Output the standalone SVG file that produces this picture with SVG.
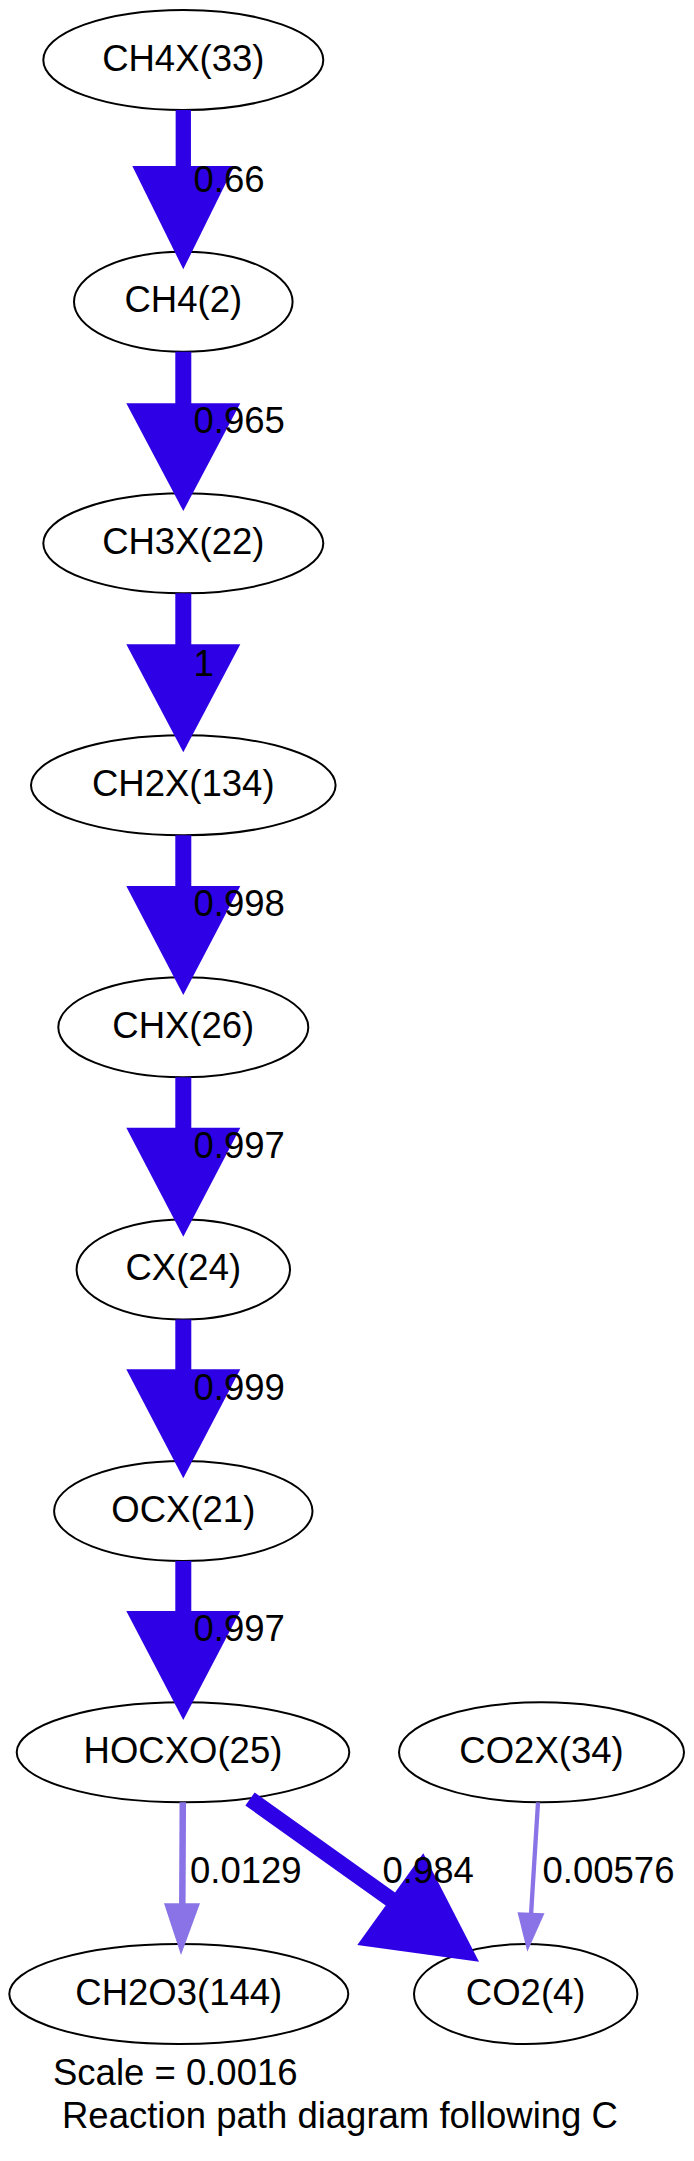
<svg xmlns="http://www.w3.org/2000/svg" width="694" height="2161" viewBox="0 0 694 2161">
<style>
  .node ellipse { fill: none; stroke: #000; stroke-width: 2; }
  .node text { font-family: "Liberation Sans", Arial, sans-serif; font-size: 36.5px; text-anchor: middle; fill: #000; }
  .lbl { font-family: "Liberation Sans", Arial, sans-serif; font-size: 36.5px; fill: #000; }
  .big line { stroke: #2e00e6; stroke-width: 16; }
  .big polygon { fill: #2e00e6; stroke: none; }
  .thin line { stroke: #8a73e6; }
  .thin polygon { fill: #8a73e6; stroke: none; }
</style>
<rect width="694" height="2161" fill="#fff"/>
<g id="nodes">
  <g id="n_CH4X33" class="node"><ellipse cx="183.3" cy="60" rx="140" ry="50"/><text x="183.3" y="70.6">CH4X(33)</text></g>
  <g id="n_CH4_2" class="node"><ellipse cx="183.3" cy="301.7" rx="109.3" ry="50"/><text x="183.3" y="312.3">CH4(2)</text></g>
  <g id="n_CH3X22" class="node"><ellipse cx="183.3" cy="543.3" rx="140" ry="50"/><text x="183.3" y="553.9">CH3X(22)</text></g>
  <g id="n_CH2X134" class="node"><ellipse cx="183.3" cy="785.3" rx="152.3" ry="50"/><text x="183.3" y="795.9">CH2X(134)</text></g>
  <g id="n_CHX26" class="node"><ellipse cx="183.3" cy="1027.3" rx="125" ry="50"/><text x="183.3" y="1037.9">CHX(26)</text></g>
  <g id="n_CX24" class="node"><ellipse cx="183.3" cy="1269.5" rx="106.7" ry="50"/><text x="183.3" y="1280.1">CX(24)</text></g>
  <g id="n_OCX21" class="node"><ellipse cx="183.3" cy="1511" rx="129.2" ry="50"/><text x="183.3" y="1521.6">OCX(21)</text></g>
  <g id="n_HOCXO25" class="node"><ellipse cx="183" cy="1752.3" rx="166.3" ry="50"/><text x="183" y="1762.9">HOCXO(25)</text></g>
  <g id="n_CO2X34" class="node"><ellipse cx="541.5" cy="1752.3" rx="142.5" ry="50"/><text x="541.5" y="1762.9">CO2X(34)</text></g>
  <g id="n_CH2O3_144" class="node"><ellipse cx="178.8" cy="1994" rx="169.5" ry="50"/><text x="178.8" y="2004.6">CH2O3(144)</text></g>
  <g id="n_CO2_4" class="node"><ellipse cx="525.7" cy="1994" rx="111.7" ry="50"/><text x="525.7" y="2004.6">CO2(4)</text></g>
</g>
<g id="connectors">
  <g class="big">
    <line x1="183.3" y1="110" x2="183.3" y2="170" style="stroke-width:15.3"/>
    <polygon points="132.3,166 234.3,166 183.3,269.3"/>
    <line x1="183.3" y1="351.7" x2="183.3" y2="408"/>
    <polygon points="126.3,403.3 240.3,403.3 183.3,511"/>
    <line x1="183.3" y1="593.3" x2="183.3" y2="650"/>
    <polygon points="126.3,644.3 240.3,644.3 183.3,752.3"/>
    <line x1="183.3" y1="835.3" x2="183.3" y2="891"/>
    <polygon points="126.3,886 240.3,886 183.3,995"/>
    <line x1="183.3" y1="1077.3" x2="183.3" y2="1133"/>
    <polygon points="126.3,1127.7 240.3,1127.7 183.3,1236.7"/>
    <line x1="183.3" y1="1319.5" x2="183.3" y2="1374"/>
    <polygon points="126.3,1369.3 240.3,1369.3 183.3,1478.3"/>
    <line x1="183.3" y1="1561" x2="183.3" y2="1616"/>
    <polygon points="126.3,1611 240.3,1611 183.3,1720"/>
    <line x1="250" y1="1799" x2="396" y2="1903"/>
    <polygon points="357.3,1945 423.3,1853.3 479,1961.7"/>
  </g>
  <g class="thin">
    <line x1="182.8" y1="1802.3" x2="182.3" y2="1906" style="stroke-width:6.5"/>
    <polygon points="164,1903.3 200,1903.3 181,1955"/>
    <line x1="538" y1="1802.3" x2="531" y2="1915" style="stroke-width:4.3"/>
    <polygon points="517.5,1912.3 544.5,1913.3 527.3,1951.7"/>
  </g>
  <g id="edge-labels">
    <text class="lbl" x="193.5" y="191.7">0.66</text>
    <text class="lbl" x="193.5" y="433.3">0.965</text>
    <text class="lbl" x="193.5" y="675.7">1</text>
    <text class="lbl" x="193.5" y="916">0.998</text>
    <text class="lbl" x="193.5" y="1158.3">0.997</text>
    <text class="lbl" x="193.5" y="1400">0.999</text>
    <text class="lbl" x="193.5" y="1641">0.997</text>
    <text class="lbl" x="190" y="1882.7">0.0129</text>
    <text class="lbl" x="382.5" y="1882.7">0.984</text>
    <text class="lbl" x="542.5" y="1882.7">0.00576</text>
  </g>
</g>
<g id="graph-label">
  <text class="lbl" x="53" y="2085">Scale = 0.0016</text>
  <text class="lbl" x="62" y="2128.3">Reaction path diagram following C</text>
</g>
</svg>
